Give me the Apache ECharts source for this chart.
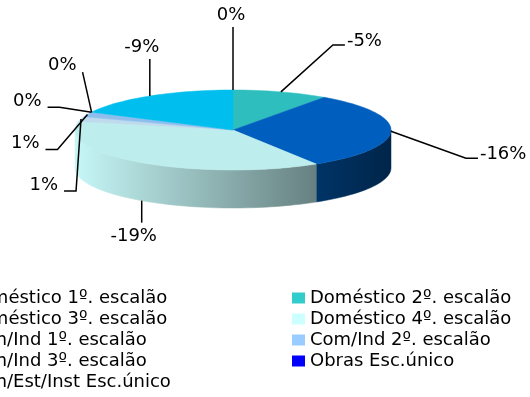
<!DOCTYPE html>
<html>
<head>
<meta charset="utf-8">
<script src="https://cdn.jsdelivr.net/npm/echarts@6/dist/echarts.min.js"></script>
<style>
  html, body { margin: 0; padding: 0; background: #fff; }
  #chart { width: 530px; height: 397px; }
</style>
</head>
<body>
<div id="chart"></div>
<script>
// Variation by tariff band (percent); slice size follows the magnitude
const categories = [
  'Doméstico 1º. escalão',
  'Doméstico 2º. escalão',
  'Doméstico 3º. escalão',
  'Doméstico 4º. escalão',
  'Com/Ind 1º. escalão',
  'Com/Ind 2º. escalão',
  'Com/Ind 3º. escalão',
  'Obras Esc.único',
  'Adm/Est/Inst Esc.único'
];
const changes = [0, -5, -16, -19, 1, 1, 0, 0, -9];
const colors = ['#9999FF', '#33CCCC', '#0066CC', '#CCFFFF', '#CCECFF', '#99CCFF', '#C0C0C0', '#0000FF', '#00CCFF'];

// Pie geometry (pixels): ellipse centre, radii and rim thickness
const PIE = { cx: 233, cy: 130, rx: 158, ry: 40, depth: 38 };
const FONT = 'DejaVu Sans';
const FONT_SIZE = 18;

// Label placement relative to each slice's anchor point:
// 'v' = text centred above/below, 'r' = text to the right (dx = text left),
// 'l' = text to the left (dx = text right), 'c' = left, with a single straight leader
const labelStyle = ['v', 'r', 'r', 'v', 'l', 'l', 'l', 'c', 'v'];
const labelOffset = [[-2, -75], [66, -51], [89, 23], [-8, 36], [-23, 66], [-48, 29], [-50, -11], [-15, -47], [-8, -49]];

const total = changes.reduce((s, v) => s + Math.abs(v), 0);
const spans = [];
(function () {
  let a = 0;
  changes.forEach(v => {
    const b = a + Math.abs(v) / total * Math.PI * 2;
    spans.push([a, b]);
    a = b;
  });
})();

function pt(theta, dy) {
  return [PIE.cx + PIE.rx * Math.sin(theta), PIE.cy - PIE.ry * Math.cos(theta) + (dy || 0)];
}
function arc(a, b, dy) {
  const n = Math.max(2, Math.ceil(Math.abs(b - a) / (Math.PI * 2) * 160));
  const out = [];
  for (let k = 0; k <= n; k++) out.push(pt(a + (b - a) * k / n, dy));
  return out;
}
function shade(hex, f) {
  const n = parseInt(hex.slice(1), 16);
  const r = Math.round(((n >> 16) & 255) * f);
  const g = Math.round(((n >> 8) & 255) * f);
  const b = Math.round((n & 255) * f);
  return 'rgb(' + r + ',' + g + ',' + b + ')';
}
function sideFill(hex) {
  return {
    type: 'linear', global: true,
    x: PIE.cx - PIE.rx, y: 0, x2: PIE.cx + PIE.rx, y2: 0,
    colorStops: [
      { offset: 0, color: shade(hex, 0.97) },
      { offset: 1, color: shade(hex, 0.36) }
    ]
  };
}

function renderSlice(params) {
  const i = params.dataIndex;
  const [a0, a1] = spans[i];
  const children = [];
  if (a1 > a0) {
    const s = Math.max(a0, Math.PI / 2), e = Math.min(a1, Math.PI * 1.5);
    if (e > s) {
      const fill = sideFill(colors[i]);
      children.push({
        type: 'polygon', z2: 1,
        shape: { points: arc(s, e, 0).concat(arc(e, s, PIE.depth)) },
        style: { fill: fill, stroke: fill, lineWidth: 0.5 }
      });
    }
    const topColor = shade(colors[i], 0.93);
    children.push({
      type: 'polygon', z2: 2,
      shape: { points: [[PIE.cx, PIE.cy]].concat(arc(a0, a1, 0)) },
      style: { fill: topColor, stroke: topColor, lineWidth: 0.5 }
    });
  }

  // leader line + value label
  const mid = (a0 + a1) / 2;
  const front = -Math.cos(mid) > 0.5;
  const anchor = pt(mid, front ? PIE.depth : 0);
  const [dx, dy] = labelOffset[i];
  const tx = anchor[0] + dx, ty = anchor[1] + dy;
  const kind = labelStyle[i];
  let line, align;
  if (kind === 'v') {
    const end = dy < 0 ? ty + 12 : ty - 14;
    line = [anchor, [anchor[0], end]];
    align = 'center';
  } else if (kind === 'r') {
    line = [anchor, [tx - 14, ty + 4], [tx - 2, ty + 4]];
    align = 'left';
  } else if (kind === 'l') {
    line = [anchor, [tx + 18, ty + 6], [tx + 6, ty + 6]];
    align = 'right';
  } else {
    line = [anchor, [tx + 6, ty + 7]];
    align = 'right';
  }
  children.push({
    type: 'polyline', z2: 10,
    shape: { points: line },
    style: { stroke: '#000', lineWidth: 1.5, fill: null }
  });
  children.push({
    type: 'text', z2: 11,
    x: tx, y: ty,
    style: {
      text: changes[i] + '%',
      fill: '#000',
      font: FONT_SIZE + 'px "' + FONT + '"',
      align: align,
      verticalAlign: 'middle'
    }
  });
  return { type: 'group', children: children };
}

const legendBase = {
  orient: 'vertical',
  top: 289,
  padding: 0,
  icon: 'rect',
  itemWidth: 13,
  itemHeight: 11,
  itemGap: 3,
  selectedMode: false,
  textStyle: { fontFamily: FONT, fontSize: FONT_SIZE, lineHeight: 18, color: '#000' }
};

const series = [{
  type: 'custom',
  name: 'pie3d',
  coordinateSystem: 'none',
  renderItem: renderSlice,
  data: categories.map((name, i) => ({ name: name, value: changes[i] }))
}].concat(categories.map((name, i) => ({
  type: 'custom',
  name: name,
  coordinateSystem: 'none',
  renderItem: () => null,
  itemStyle: { color: colors[i] },
  data: []
})));

const chart = echarts.init(document.getElementById('chart'), null, { renderer: 'canvas' });
chart.setOption({
  animation: false,
  backgroundColor: '#fff',
  legend: [
    Object.assign({}, legendBase, { left: -52, data: categories.filter((_, i) => i % 2 === 0) }),
    Object.assign({}, legendBase, { left: 292, data: categories.filter((_, i) => i % 2 === 1) })
  ],
  series: series
});
</script>
</body>
</html>
